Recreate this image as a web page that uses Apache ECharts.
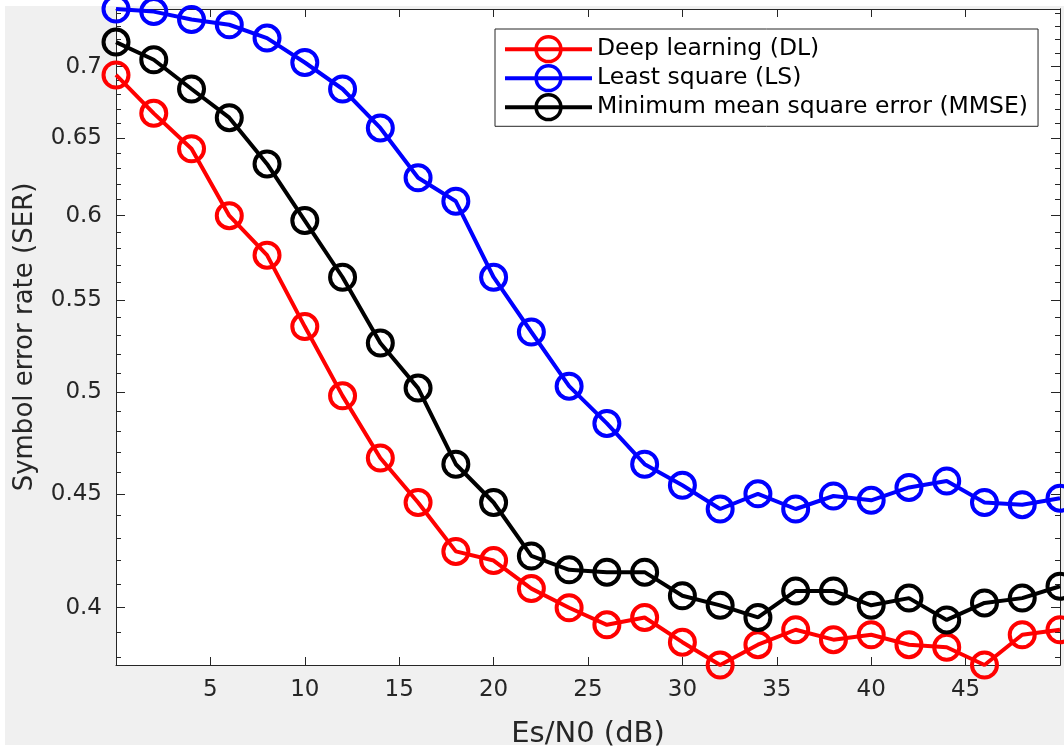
<!DOCTYPE html>
<html>
<head>
<meta charset="utf-8">
<script src="https://cdn.jsdelivr.net/npm/echarts@6/dist/echarts.min.js"></script>
<style>
  html, body { margin: 0; padding: 0; background: #fff; }
  .fig-bg { position: absolute; left: 5px; top: 6px; width: 1059px; height: 739px; background: #f0f0f0; }
  #main { position: absolute; left: 0; top: 0; width: 1064px; height: 746px; }
</style>
</head>
<body>
<div class="fig-bg"></div>
<div id="main"></div>
<script>
  // x axis: Es/N0 in dB
  var snrDb = [0, 2, 4, 6, 8, 10, 12, 14, 16, 18, 20, 22, 24, 26, 28, 30, 32, 34, 36, 38, 40, 42, 44, 46, 48, 50];

  // symbol error rate per method
  var serDL = [0.694, 0.667, 0.643, 0.600, 0.576, 0.535, 0.498, 0.467, 0.446, 0.424, 0.420, 0.408, 0.400,
               0.393, 0.396, 0.386, 0.377, 0.385, 0.391, 0.387, 0.389, 0.385, 0.384, 0.377, 0.389, 0.391];
  var serLS = [0.743, 0.741, 0.735, 0.731, 0.721, 0.703, 0.684, 0.657, 0.624, 0.609, 0.563, 0.532, 0.503,
               0.484, 0.464, 0.454, 0.443, 0.450, 0.443, 0.449, 0.447, 0.453, 0.456, 0.446, 0.445, 0.448];
  var serMMSE = [0.718, 0.705, 0.684, 0.664, 0.633, 0.597, 0.563, 0.526, 0.502, 0.464, 0.446, 0.422, 0.416,
                 0.415, 0.415, 0.405, 0.401, 0.396, 0.407, 0.407, 0.401, 0.404, 0.395, 0.402, 0.404, 0.409];

  var seriesNames = ['Deep learning (DL)', 'Least square (LS)', 'Minimum mean square error (MMSE)'];
  var seriesColors = ['#ff0000', '#0000ff', '#000000'];

  // tick labels
  var xTickLabels = [5, 10, 15, 20, 25, 30, 35, 40, 45];
  var yMajorTicks = [0.4, 0.45, 0.5, 0.55, 0.6, 0.65, 0.7];
  var yMinorTicks = [0.38, 0.39, 0.41, 0.42, 0.43, 0.44, 0.46, 0.47, 0.48, 0.49,
                     0.51, 0.52, 0.53, 0.54, 0.56, 0.57, 0.58, 0.59, 0.61, 0.62, 0.63, 0.64,
                     0.66, 0.67, 0.68, 0.69, 0.71, 0.72, 0.73, 0.74];

  // axis tight, like matlab
  var allSer = serDL.concat(serLS, serMMSE);
  var yMin = Math.min.apply(null, allSer);
  var yMax = Math.max.apply(null, allSer);

  var axisColor = '#262626';
  var font = 'DejaVu Sans';

  function yAxisDef(pos, ticks, tickLen, showLabel) {
    return {
      type: 'log',
      logBase: 10,
      position: pos,
      min: yMin,
      max: yMax,
      axisLine: { show: true, onZero: false, lineStyle: { color: axisColor, width: 1 } },
      axisTick: { show: true, inside: true, length: tickLen, customValues: ticks,
                  lineStyle: { color: axisColor, width: 1 } },
      axisLabel: {
        show: showLabel,
        customValues: ticks,
        margin: 14,
        color: axisColor,
        fontFamily: font,
        fontSize: 23,
        formatter: function (v) { return String(+(+v).toFixed(2)); }
      },
      splitLine: { show: false },
      minorTick: { show: false }
    };
  }

  function xAxisDef(pos, showLabel) {
    return {
      type: 'value',
      position: pos,
      min: 0,
      max: 50,
      interval: 5,
      axisLine: { show: true, onZero: false, lineStyle: { color: axisColor, width: 1 } },
      axisTick: { show: true, inside: true, length: 8, lineStyle: { color: axisColor, width: 1 } },
      axisLabel: { show: showLabel, customValues: xTickLabels, margin: 14, color: axisColor,
                   fontFamily: font, fontSize: 23 },
      splitLine: { show: false }
    };
  }

  var chart = echarts.init(document.getElementById('main'), null, { renderer: 'canvas' });

  var xBottom = xAxisDef('bottom', true);
  xBottom.name = 'Es/N0 (dB)';
  xBottom.nameLocation = 'middle';
  xBottom.nameGap = 55;
  xBottom.nameTextStyle = { color: axisColor, fontFamily: font, fontSize: 29 };

  var yLeft = yAxisDef('left', yMajorTicks, 9, true);
  yLeft.name = 'Symbol error rate (SER)';
  yLeft.nameLocation = 'middle';
  yLeft.nameGap = 78;
  yLeft.nameTextStyle = { color: axisColor, fontFamily: font, fontSize: 26 };

  var series = [serDL, serLS, serMMSE].map(function (vals, i) {
    return {
      name: seriesNames[i],
      type: 'line',
      xAxisIndex: 0,
      yAxisIndex: 0,
      data: snrDb.map(function (x, k) { return [x, vals[k]]; }),
      symbol: 'circle',
      symbolSize: 25,
      clip: false,
      lineStyle: { color: seriesColors[i], width: 4 },
      itemStyle: { color: 'rgba(0,0,0,0)', borderColor: seriesColors[i], borderWidth: 4 },
      emphasis: { disabled: true }
    };
  });

  var option = {
    animation: false,
    backgroundColor: 'transparent',
    grid: {
      left: 116, right: 4, top: 9, bottom: 81,
      show: true, backgroundColor: '#fff', borderWidth: 0,
      outerBoundsMode: 'none'
    },
    legend: {
      orient: 'vertical',
      left: 495,
      top: 29,
      itemWidth: 87,
      itemHeight: 31,
      itemGap: 0.7,
      padding: [6, 10, 5, 8],
      backgroundColor: '#fff',
      borderColor: axisColor,
      borderWidth: 1,
      borderRadius: 0,
      textStyle: { color: '#000', fontFamily: font, fontSize: 23.5 },
      data: seriesNames.map(function (n, i) {
        return {
          name: n,
          itemStyle: { color: 'rgba(0,0,0,0)', borderColor: seriesColors[i], borderWidth: 3.5 },
          lineStyle: { color: seriesColors[i], width: 4 }
        };
      })
    },
    xAxis: [xBottom, xAxisDef('top', false)],
    yAxis: [
      yLeft,
      yAxisDef('left', yMinorTicks, 5, false),
      yAxisDef('right', yMajorTicks, 9, false),
      yAxisDef('right', yMinorTicks, 5, false)
    ],
    series: series
  };

  chart.setOption(option);
</script>
</body>
</html>
